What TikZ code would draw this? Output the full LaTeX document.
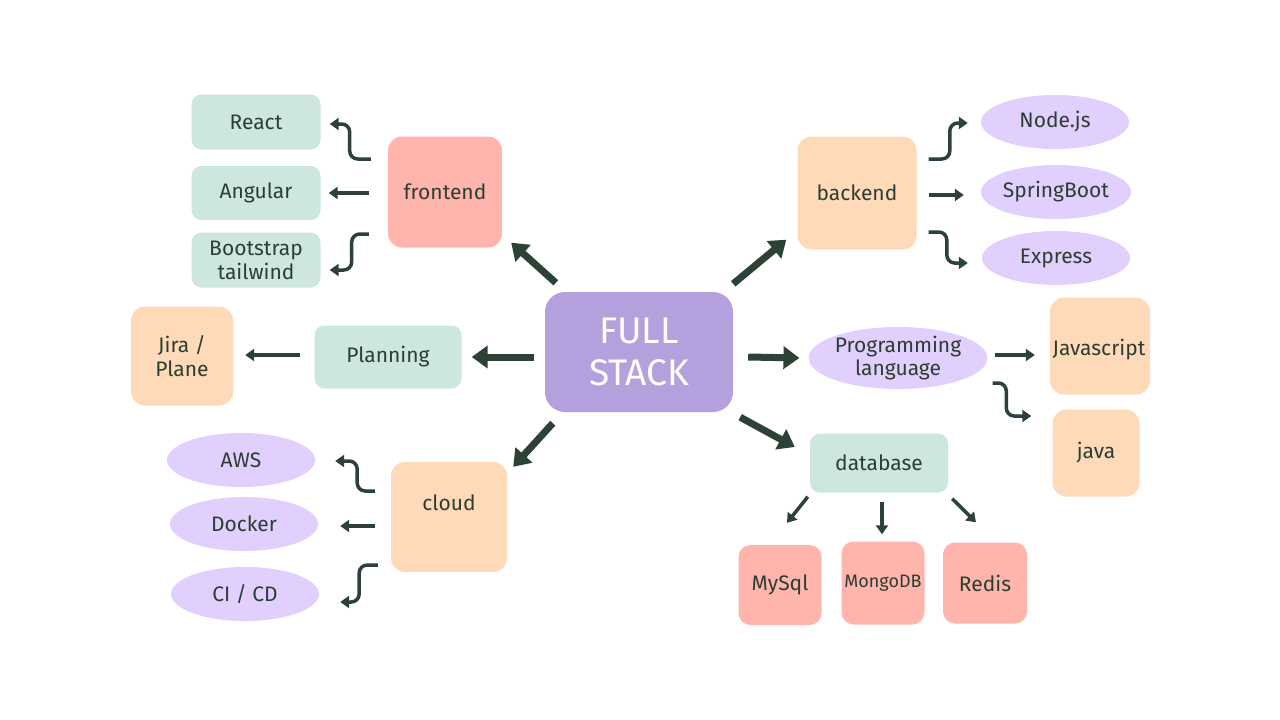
\documentclass[tikz,border=0pt]{standalone}
\usepackage{fontspec}
\setmainfont{Fira Sans}
\usetikzlibrary{arrows.meta,shapes.geometric,calc}
\definecolor{pinkc}{HTML}{FFB5AC}
\definecolor{mintc}{HTML}{CDE6DF}
\definecolor{peachc}{HTML}{FFDAB9}
\definecolor{lavc}{HTML}{E1CFFD}
\definecolor{purc}{HTML}{B3A0DC}
\definecolor{txtc}{HTML}{2C3E33}
\definecolor{arrc}{HTML}{2D4236}
\tikzset{
  base/.style={inner sep=0pt, align=center, text=txtc, font=\fontsize{21}{24}\selectfont},
  rbox/.style={base, rectangle, rounded corners=10pt},
  ell/.style={base, ellipse, fill=lavc, minimum width=148pt, minimum height=54pt},
  bigarr/.style={draw=arrc, line width=7pt, -{Triangle[length=16pt,width=22pt]}},
  smallarr/.style={draw=arrc, line width=3.5pt, rounded corners=8pt, -{Triangle[length=9pt,width=12pt]}}
}
\begin{document}
\begin{tikzpicture}[x=1pt,y=-1pt]
\useasboundingbox (0,0) rectangle (1280,720);
\fill[white] (0,0) rectangle (1280,720);

% center
\node[rbox, fill=purc, rounded corners=20pt, minimum width=188pt, minimum height=120pt, text=white, font=\fontsize{37}{42}\selectfont] (full) at (639,352) {FULL\\STACK};

% frontend group
\node[rbox, fill=pinkc, rounded corners=14pt, minimum width=114pt, minimum height=111pt] (frontend) at (445,192) {frontend};
\node[rbox, fill=mintc, minimum width=129pt, minimum height=55pt] (react) at (256,122) {React};
\node[rbox, fill=mintc, minimum width=129pt, minimum height=54pt] (angular) at (256,193) {Angular};
\node[rbox, fill=mintc, minimum width=129pt, minimum height=55pt] (bootstrap) at (256,260) {Bootstrap\\tailwind};

% backend group
\node[rbox, fill=peachc, rounded corners=14pt, minimum width=119pt, minimum height=113pt] (backend) at (857,193) {backend};
\node[ell] (nodejs) at (1055,122) {Node.js};
\node[ell] (springboot) at (1056,192) {SpringBoot};
\node[ell] (express) at (1056,258) {Express};

% programming language
\node[ell, minimum width=160pt, minimum height=60pt, font=\fontsize{21}{23}\selectfont] (proglang) at (898,358) {Programming\\language};
\node[rbox, fill=peachc, rounded corners=14pt, minimum width=100pt, minimum height=97pt] (javascript) at (1100,346) {};
\node[base] (jstxt) at (1099,350) {Javascript};
\node[rbox, fill=peachc, rounded corners=14pt, minimum width=87pt, minimum height=87pt] (java) at (1096,453) {java};

% database
\node[rbox, fill=mintc, minimum width=138pt, minimum height=59pt] (database) at (879,463) {database};
\node[rbox, fill=pinkc, rounded corners=12pt, minimum width=83pt, minimum height=80pt] (mysql) at (780,585) {MySql};
\node[rbox, fill=pinkc, rounded corners=12pt, minimum width=83pt, minimum height=83pt, font=\fontsize{18}{21}\selectfont] (mongodb) at (883,583) {MongoDB};
\node[rbox, fill=pinkc, rounded corners=12pt, minimum width=84pt, minimum height=81pt] (redis) at (985,583) {Redis};

% planning
\node[rbox, fill=mintc, minimum width=147pt, minimum height=63pt] (planning) at (388,357) {Planning};
\node[rbox, fill=peachc, rounded corners=14pt, minimum width=102pt, minimum height=99pt] (jira) at (182,356) {Jira /\\Plane};

% cloud
\node[rbox, fill=peachc, rounded corners=14pt, minimum width=116pt, minimum height=110pt] (cloud) at (449,517) {};
\node[base] (cloudtxt) at (449,503) {cloud};
\node[ell] (aws) at (241,460) {AWS};
\node[ell] (docker) at (244,524) {Docker};
\node[ell] (cicd) at (245,594) {CI / CD};

% big arrows from center
\draw[bigarr] ($(full.north west)+(11,-9)$) -- ($(frontend.south east)+(9,-5)$);
\draw[bigarr] ($(full.north east)+(0,-8)$) -- ($(backend.south west)+(-11,-10)$);
\draw[bigarr] ($(full.east)+(15,5)$) -- ($(proglang.west)+(-9,0)$);
\draw[bigarr] ($(full.south east)+(7,5)$) -- ($(database.west)+(-15,-16)$);
\draw[bigarr] ($(full.west)+(-11,5)$) -- ($(planning.east)+(10,0)$);
\draw[bigarr] ($(full.south west)+(8,11)$) -- ($(cloud.north east)+(6,5)$);

% frontend children
\draw[smallarr] ($(frontend.west)+(-17,-33)$) -| ($(react.east)+(29,2)$) -- ($(react.east)+(9,2)$);
\draw[smallarr] ($(frontend.west)+(-19,1)$) -- ($(angular.east)+(8,0)$);
\draw[smallarr] ($(frontend.west)+(-19,42)$) -| ($(bootstrap.east)+(31,10)$) -- ($(bootstrap.east)+(9,10)$);

% backend children
\draw[smallarr] ($(backend.east)+(12,-34)$) -| ($(nodejs.west)+(-31,1)$) -- ($(nodejs.west)+(-13,1)$);
\draw[smallarr] ($(backend.east)+(12,2)$) -- ($(springboot.west)+(-17,3)$);
\draw[smallarr] ($(backend.east)+(12,39)$) -| ($(express.west)+(-35,5)$) -- ($(express.west)+(-14,5)$);

% programming language children
\draw[smallarr] ($(proglang.east)+(7,-3)$) -- ($(javascript.west)+(-15,9)$);
\draw[smallarr] ($(proglang.east)+(5,25)$) -| ($(java.west)+(-46,-37)$) -- ($(java.west)+(-21,-37)$);

% database children
\draw[smallarr] ($(database.south west)+(-2,4)$) -- ($(mysql.north)+(7,-22)$);
\draw[smallarr] ($(database.south)+(3,9)$) -- ($(mongodb.north)+(-1,-7)$);
\draw[smallarr] ($(database.south east)+(4,6)$) -- ($(redis.north)+(-9,-20)$);

% planning child
\draw[smallarr] ($(planning.west)+(-14,-2)$) -- ($(jira.east)+(12,-1)$);

% cloud children
\draw[smallarr] ($(cloud.west)+(-16,-26)$) -| ($(aws.east)+(42,1)$) -- ($(aws.east)+(20,1)$);
\draw[smallarr] ($(cloud.west)+(-16,9)$) -- ($(docker.east)+(22,2)$);
\draw[smallarr] ($(cloud.west)+(-13,48)$) -| ($(cicd.east)+(40,8)$) -- ($(cicd.east)+(21,8)$);
\end{tikzpicture}
\end{document}
